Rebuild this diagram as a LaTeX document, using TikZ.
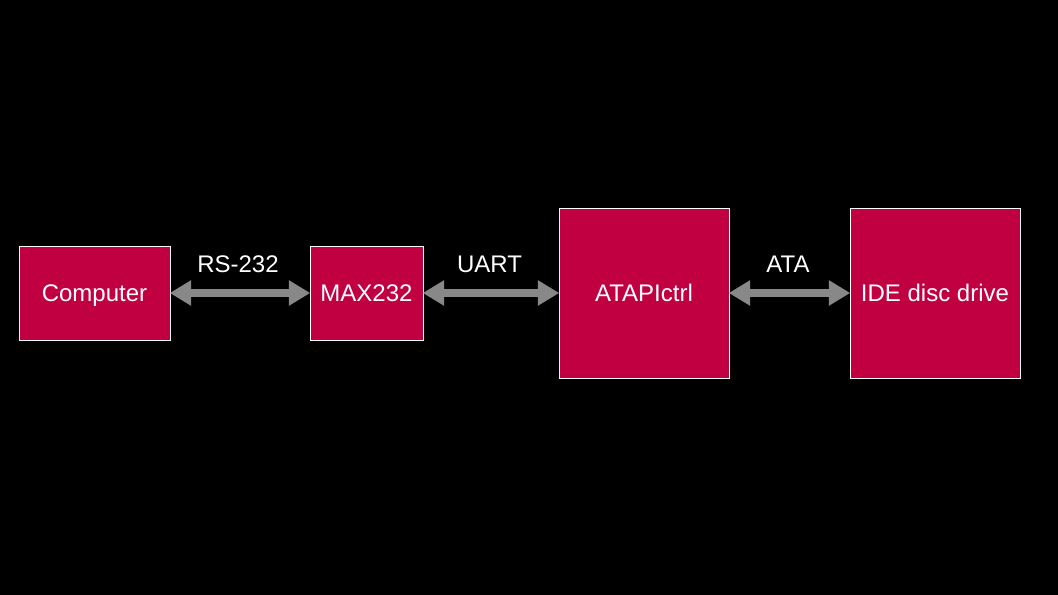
\documentclass[tikz,border=0pt]{standalone}
\usepackage{fontspec}
\setmainfont{Liberation Sans}
\usetikzlibrary{arrows.meta}

\definecolor{boxred}{RGB}{192,0,64}
\definecolor{linkgray}{RGB}{136,136,136}

\tikzset{
  block/.style={draw=white,line width=0.6pt,fill=boxred,text=white,inner sep=0pt,text height=12.9pt,text depth=0pt,font=\fontsize{18}{21}\selectfont},
  link/.style={draw=linkgray,line width=6pt,{Triangle[length=16pt,width=18pt]}-{Triangle[length=16pt,width=18pt]},shorten <=-0.5pt,shorten >=-0.5pt},
  linklabel/.style={text=white,inner sep=0.75pt,font=\fontsize{18}{21}\selectfont}
}

\begin{document}
\begin{tikzpicture}[x=0.75pt,y=0.75pt,yscale=-1]
%set diagram size
\fill[black] (0,0) rectangle (1058,595);
\useasboundingbox (0,0) rectangle (1058,595);

%Shape: Rectangle [Computer]
\node[block,minimum width=113.25pt,minimum height=70.5pt] (computer) at (94.5,293) {Computer};
%Shape: Rectangle [MAX232]
\node[block,minimum width=84.75pt,minimum height=70.5pt] (max) at (366.5,293) {MAX232};
%Shape: Rectangle [ATAPIctrl]
\node[block,minimum width=127.5pt,minimum height=127.5pt] (atapi) at (644,293) {ATAPIctrl};
%Shape: Rectangle [IDE disc drive]
\node[block,minimum width=127.5pt,minimum height=127.5pt] (ide) at (935,293) {IDE disc drive};

%Straight Lines [links]
\draw[link] (computer.east) -- (max.west);
\draw[link] (max.east) -- (atapi.west);
\draw[link] (atapi.east) -- (ide.west);

% Text Node
\node[linklabel] (rs) at (238,264) {RS-232};
% Text Node
\node[linklabel] (uart) at (489.5,264) {UART};
% Text Node
\node[linklabel] (ata) at (788,264) {ATA};

\end{tikzpicture}
\end{document}
